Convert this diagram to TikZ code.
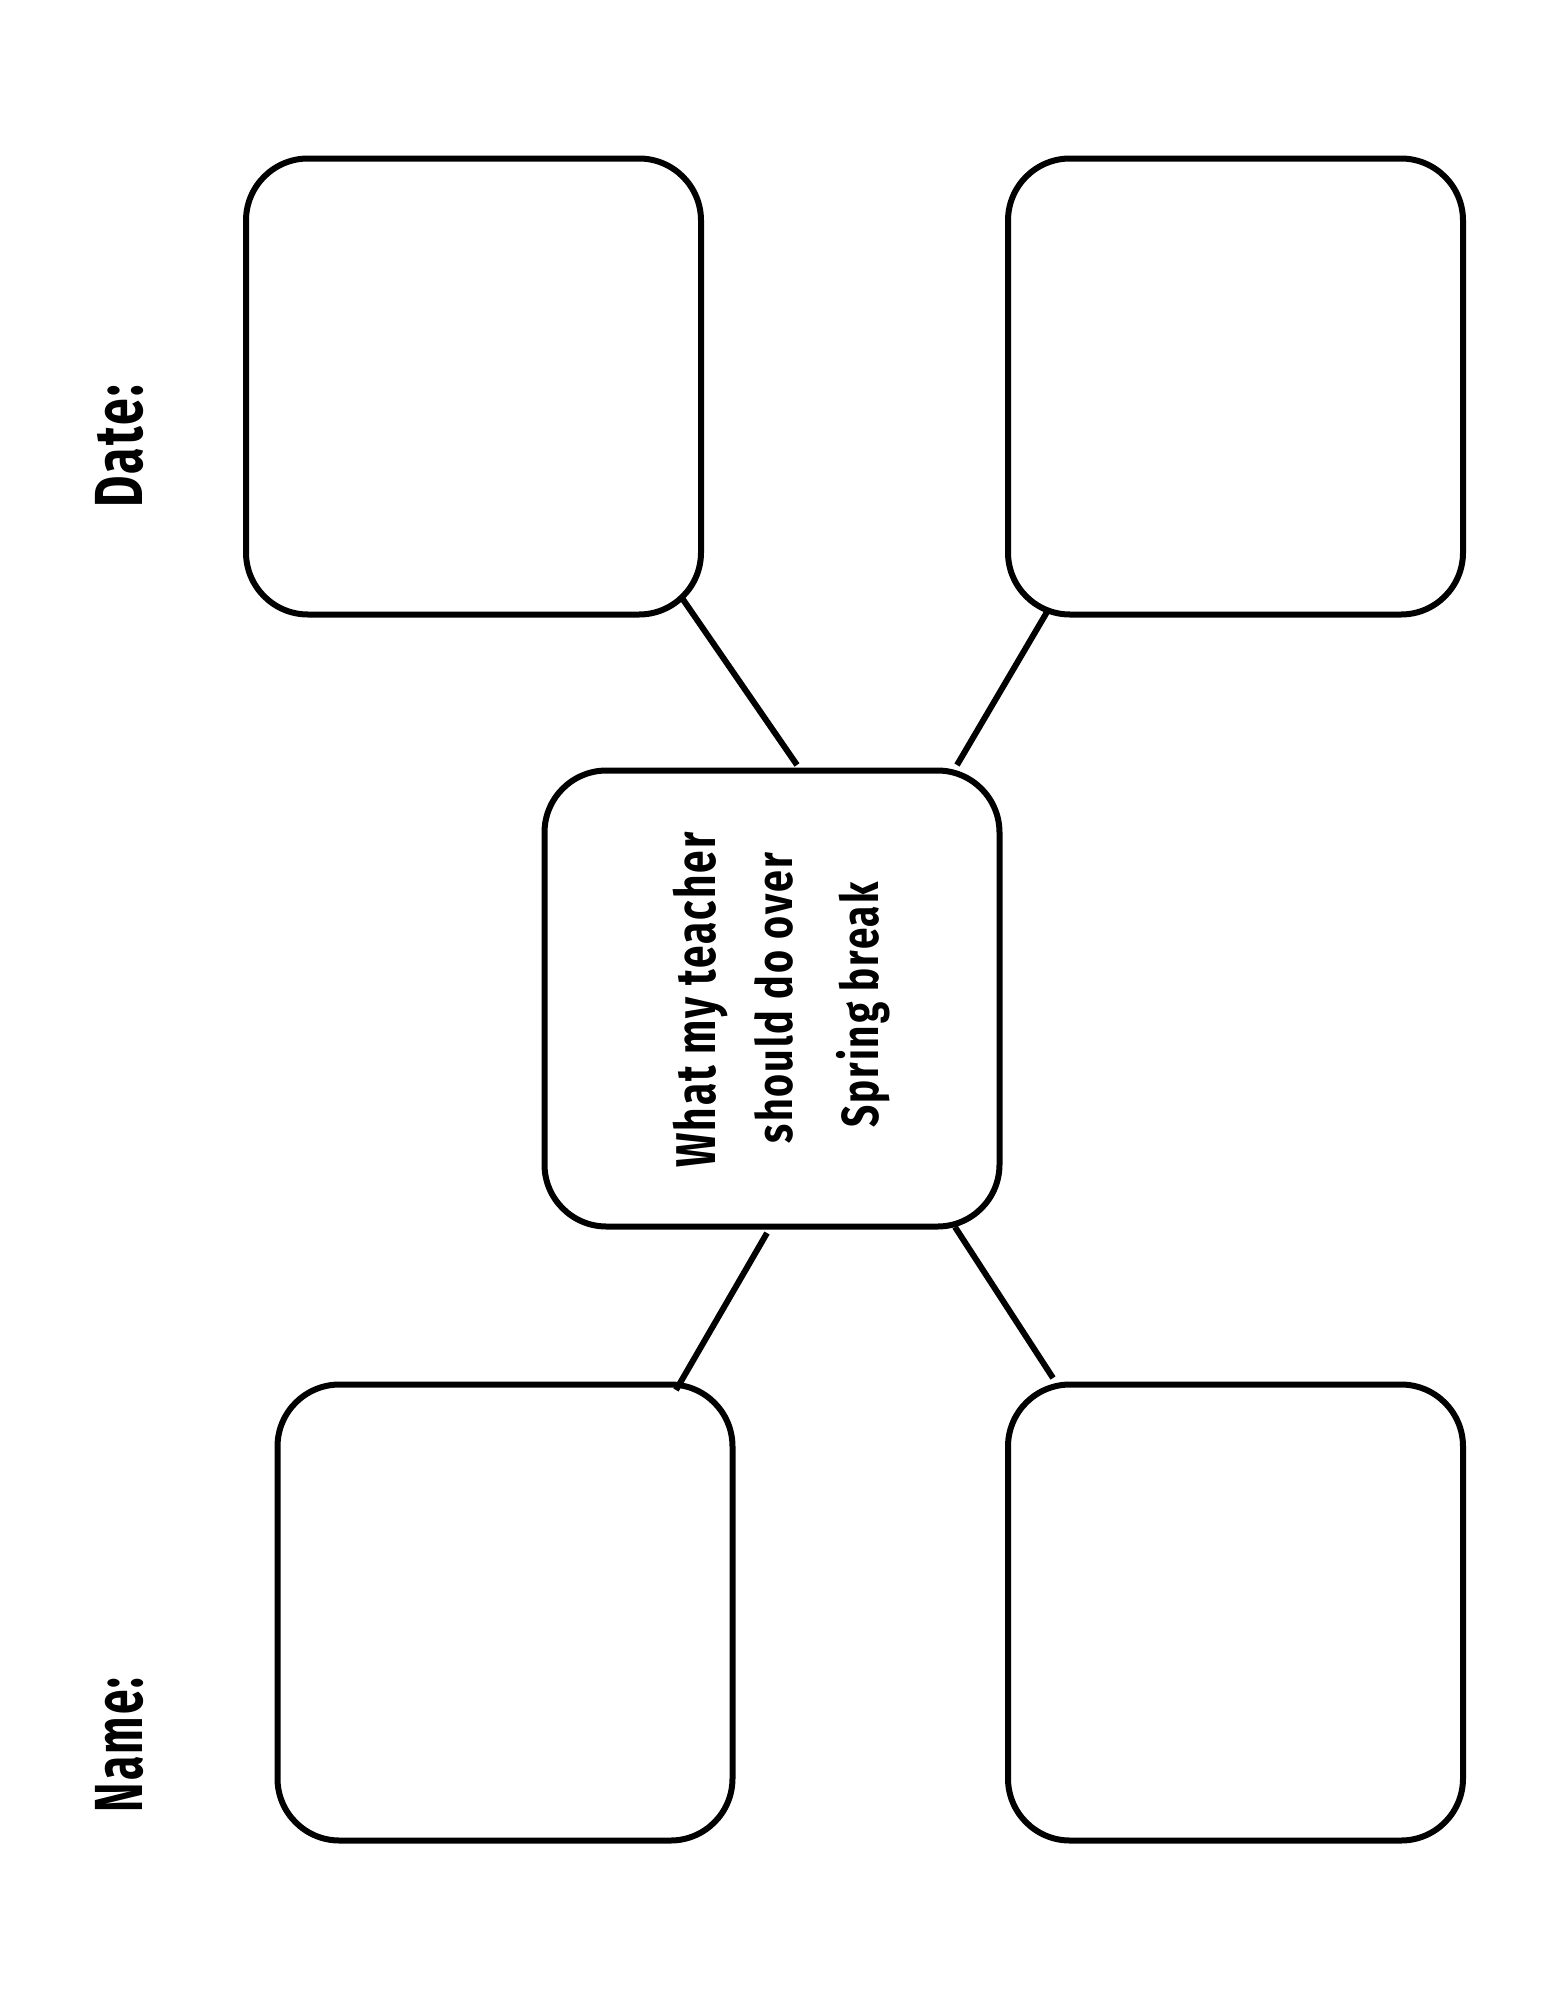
\documentclass[tikz,border=0pt]{standalone}
\usepackage{fontspec}
\setmainfont{Fira Sans}[LetterSpace=5]
\usepackage{graphicx}
\begin{document}
\begin{tikzpicture}[x=1pt,y=-1pt,
  card/.style={draw=black,line width=6pt,rounded corners=62pt,rectangle,minimum width=455pt,minimum height=456pt,inner sep=0pt,fill=white},
  link/.style={draw=black,line width=6pt,line cap=butt},
  vtext/.style={rotate=90,anchor=base,inner sep=0pt,font=\bfseries}]
\useasboundingbox (0,0) rectangle (1545,1999);
\fill[white] (0,0) rectangle (1545,1999);
% boxes
\node[card] (tl) at (473.5,386.5) {};
\node[card] (tr) at (1235.5,386.5) {};
\node[card] (c)  at (772,998.5) {};
\node[card] (bl) at (505,1612.5) {};
\node[card] (br) at (1235.5,1612.5) {};
% connector ends
\coordinate (tla) at (682,598);
\coordinate (tlb) at (797,765);
\coordinate (tra) at (1047,612);
\coordinate (trb) at (957,765);
\coordinate (bla) at (767,1233);
\coordinate (blb) at (676,1390);
\coordinate (bra) at (955,1227);
\coordinate (brb) at (1053,1378);
\draw[link] (tla) -- (tlb);
\draw[link] (tra) -- (trb);
\draw[link] (bla) -- (blb);
\draw[link] (bra) -- (brb);
% texts
\node[vtext] (t1) at (715,1000) {\resizebox{335pt}{\height}{\fontsize{56}{68}\selectfont What my teacher}};
\node[vtext] (t2) at (792,998) {\resizebox{290pt}{\height}{\fontsize{50}{60}\selectfont should do over}};
\node[vtext] (t3) at (878,1005) {\resizebox{245pt}{\height}{\fontsize{52}{62}\selectfont Spring break}};
\node[vtext] (date) at (142,446) {\resizebox{123pt}{\height}{\fontsize{68}{82}\selectfont Date:}};
\node[vtext] (name) at (142,1745) {\resizebox{135pt}{\height}{\fontsize{68}{82}\selectfont Name:}};
\end{tikzpicture}
\end{document}
